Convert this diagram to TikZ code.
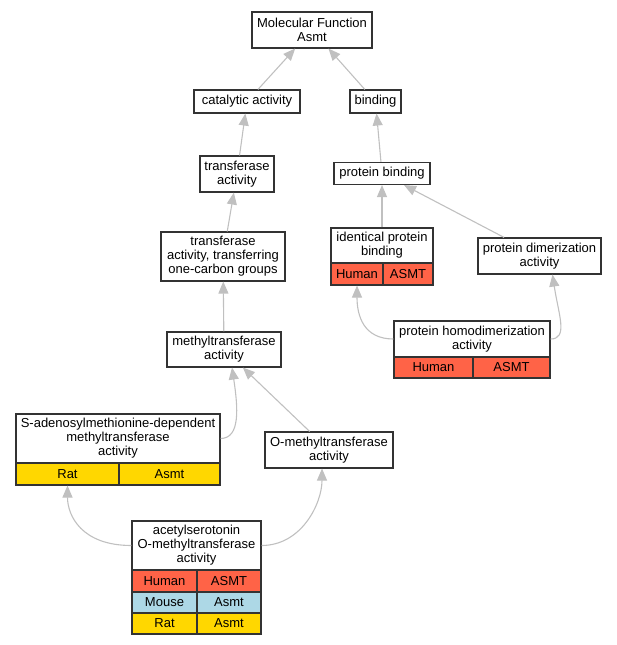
\documentclass[tikz,border=0pt]{standalone}
\usepackage{fontspec}
\setmainfont{Liberation Sans}
\usetikzlibrary{arrows.meta}
\definecolor{tomato}{HTML}{FF6347}
\definecolor{lblue}{HTML}{ADD8E6}
\definecolor{gold}{HTML}{FFD700}
\definecolor{edgegray}{HTML}{C0C0C0}
\tikzset{
  term/.style={draw=black!80, line width=1.1pt, fill=white, align=center, inner sep=0pt,
    font=\fontsize{13}{14}\selectfont},
  human/.style={term, fill=tomato, minimum height=22pt},
  mouse/.style={term, fill=lblue, minimum height=22pt},
  rat/.style={term, fill=gold, minimum height=22pt},
  isa/.style={draw=edgegray, line width=1.1pt, -{Triangle[length=12pt,width=10pt,color=edgegray]}},
}
\begin{document}
\begin{tikzpicture}[x=1pt, y=-1pt]
\useasboundingbox (0,0) rectangle (617,645);
% terms
\node[term, minimum width=120, minimum height=36] (mf) at (312,30) {Molecular Function\\Asmt};
\node[term, minimum width=106, minimum height=23] (cat) at (247,101.5) {catalytic activity};
\node[term, minimum width=51, minimum height=23] (bind) at (375.5,101.5) {binding};
\node[term, minimum width=74, minimum height=36] (tra) at (237,174) {transferase\\activity};
\node[term, minimum width=96, minimum height=22] (pb) at (382,173.5) {protein binding};
\node[term, minimum width=124, minimum height=49] (tocg) at (223,256.5) {transferase\\activity, transferring\\one-carbon groups};
\node[term, minimum width=114, minimum height=35] (mt) at (224,349.5) {methyltransferase\\activity};
\node[term, minimum width=123, minimum height=36] (pda) at (539.5,256) {protein dimerization\\activity};
\node[term, minimum width=128, minimum height=36] (omt) at (329,450) {O-methyltransferase\\activity};

% identical protein binding
\node[term, minimum width=102, minimum height=35] (ipb) at (382,245.5) {identical protein\\binding};
\node[human, minimum width=52] (ipbHuman) at (357,274) {Human};
\node[human, minimum width=50] (ipbASMT) at (408,274) {ASMT};

% protein homodimerization activity
\node[term, minimum width=156, minimum height=36] (homo) at (472,339) {protein homodimerization\\activity};
\node[human, minimum width=79, minimum height=21] (homoHuman) at (433.5,367.5) {Human};
\node[human, minimum width=77, minimum height=21] (homoASMT) at (511.5,367.5) {ASMT};

% S-adenosylmethionine-dependent methyltransferase activity
\node[term, minimum width=204, minimum height=49] (sadm) at (118,438.5) {S-adenosylmethionine-dependent\\methyltransferase\\activity};
\node[rat, minimum width=103] (sadmRat) at (67.5,474) {Rat};
\node[rat, minimum width=101] (sadmAsmt) at (169.5,474) {Asmt};

% acetylserotonin O-methyltransferase activity
\node[term, minimum width=129, minimum height=49] (acet) at (196.5,545.5) {acetylserotonin\\O-methyltransferase\\activity};
\node[human, minimum width=65] (acetHuman) at (164.5,581) {Human};
\node[human, minimum width=64] (acetASMT) at (229,581) {ASMT};
\node[mouse, minimum width=65, minimum height=21] (acetMouse) at (164.5,602.5) {Mouse};
\node[mouse, minimum width=64, minimum height=21] (acetAsmt) at (229,602.5) {Asmt};
\node[rat, minimum width=65, minimum height=21] (acetRat) at (164.5,623.5) {Rat};
\node[rat, minimum width=64, minimum height=21] (acetAsmtR) at (229,623.5) {Asmt};

% is_a edges
\draw[isa] (cat) -- (mf);
\draw[isa] (bind) -- (mf);
\draw[isa] (tra) -- (cat);
\draw[isa] (pb) -- (bind);
\draw[isa] (tocg) -- (tra);
\draw[isa] (mt) -- (tocg);
\draw[isa] (ipb) -- (pb);
\draw[isa] (pda) -- (pb);
\draw[isa] (omt) -- (mt);
\draw[isa] (homo.west) .. controls +(-30,0) and +(0,30) .. (ipbHuman.south);
\draw[isa] (homo.east) .. controls +(18,0) and +(6,40) .. ([xshift=13pt]pda.south);
\draw[isa] (sadm.east) .. controls +(20,0) and +(6,40) .. ([xshift=8pt]mt.south);
\draw[isa] (acet.west) .. controls +(-50,0) and +(0,30) .. (sadmRat.south);
\draw[isa] (acet.east) .. controls +(40,0) and +(0,35) .. ([xshift=-7pt]omt.south);
\end{tikzpicture}
\end{document}
